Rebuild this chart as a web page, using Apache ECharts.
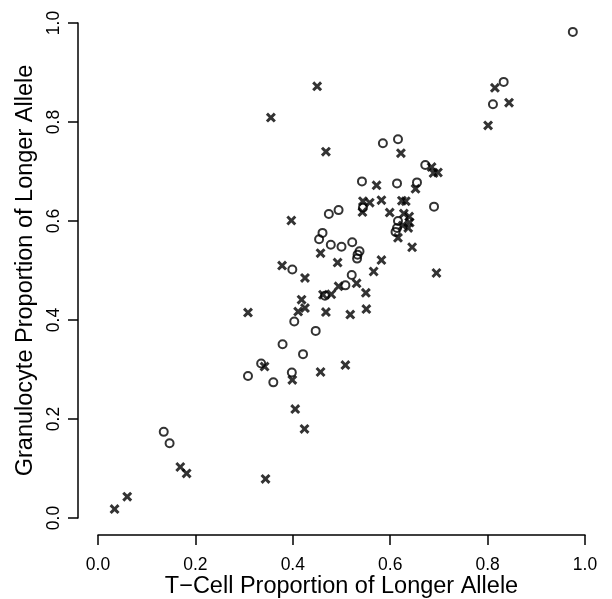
<!DOCTYPE html>
<html>
<head>
<meta charset="utf-8">
<script src="https://cdn.jsdelivr.net/npm/echarts@6/dist/echarts.min.js"></script>
<style>
  html, body { margin: 0; padding: 0; background: #fff; }
  #chart { width: 612px; height: 599px; }
</style>
</head>
<body>
<div id="chart"></div>
<script>
// open circles
const circlePoints = [
  [0.975, 0.982], [0.833, 0.881], [0.811, 0.836], [0.585, 0.757], [0.616, 0.765],
  [0.672, 0.713], [0.542, 0.680], [0.614, 0.676], [0.655, 0.678], [0.690, 0.629],
  [0.544, 0.627], [0.474, 0.614], [0.494, 0.622], [0.616, 0.600], [0.614, 0.586],
  [0.611, 0.578], [0.461, 0.576], [0.454, 0.563], [0.478, 0.552], [0.500, 0.548],
  [0.522, 0.557], [0.537, 0.539], [0.533, 0.532], [0.532, 0.524], [0.399, 0.502],
  [0.521, 0.491], [0.508, 0.470], [0.466, 0.449], [0.403, 0.397], [0.447, 0.378],
  [0.379, 0.351], [0.421, 0.331], [0.335, 0.312], [0.308, 0.287], [0.360, 0.274],
  [0.398, 0.294], [0.135, 0.174], [0.147, 0.151]
]
// crosses
const crossPoints = [
  [0.450, 0.872], [0.355, 0.809], [0.468, 0.740], [0.622, 0.737], [0.685, 0.709],
  [0.689, 0.697], [0.698, 0.698], [0.572, 0.672], [0.652, 0.665], [0.815, 0.869],
  [0.844, 0.839], [0.801, 0.793], [0.544, 0.640], [0.558, 0.637], [0.582, 0.642],
  [0.543, 0.618], [0.624, 0.641], [0.632, 0.640], [0.599, 0.617], [0.397, 0.601],
  [0.628, 0.615], [0.639, 0.609], [0.640, 0.597], [0.626, 0.591], [0.637, 0.586],
  [0.616, 0.566], [0.645, 0.547], [0.695, 0.495], [0.457, 0.535], [0.492, 0.516],
  [0.582, 0.521], [0.566, 0.498], [0.378, 0.510], [0.425, 0.485], [0.531, 0.474],
  [0.550, 0.455], [0.494, 0.468], [0.462, 0.451], [0.479, 0.452], [0.418, 0.441],
  [0.425, 0.424], [0.411, 0.417], [0.468, 0.416], [0.518, 0.411], [0.551, 0.422],
  [0.308, 0.415], [0.342, 0.306], [0.399, 0.279], [0.457, 0.295], [0.508, 0.309],
  [0.405, 0.220], [0.424, 0.180], [0.169, 0.103], [0.182, 0.090], [0.344, 0.079],
  [0.060, 0.043], [0.034, 0.018]
]
const xTicks = [0, 0.2, 0.4, 0.6, 0.8, 1.0]
const yTicks = [0, 0.2, 0.4, 0.6, 0.8, 1.0]

const font = 'Liberation Sans, Arial, Helvetica, sans-serif'
// filled "x" glyph, like R's pch 4
const crossPath = 'path://M0,2.1 L2.1,0 L5,2.9 L7.9,0 L10,2.1 L7.1,5 L10,7.9 L7.9,10 L5,7.1 L2.1,10 L0,7.9 L2.9,5 Z'

const axisBase = {
  type: 'value',
  interval: 0.2,
  nameLocation: 'middle',
  nameMoveOverlap: false,
  nameTextStyle: { color: '#000', fontSize: 23.5, fontFamily: font },
  axisLine: { show: true, onZero: false, lineStyle: { color: '#000', width: 1.5 } },
  axisTick: { show: true, length: 10, lineStyle: { color: '#000', width: 1.5 } },
  splitLine: { show: false }
}

const chart = echarts.init(document.getElementById('chart'))
chart.setOption({
  animation: false,
  backgroundColor: '#ffffff',
  grid: {
    left: 98,
    right: 27,
    top: 23,
    bottom: 81,
    containLabel: false,
    outerBoundsMode: 'none'
  },
  xAxis: Object.assign({}, axisBase, {
    min: xTicks[0],
    max: xTicks[xTicks.length - 1],
    offset: 17,
    name: 'T\u2212Cell Proportion of Longer Allele',
    nameGap: 40,
    axisLabel: {
      color: '#000',
      fontSize: 17.5,
      fontFamily: font,
      margin: 21,
      formatter: v => v.toFixed(1)
    }
  }),
  yAxis: Object.assign({}, axisBase, {
    min: yTicks[0],
    max: yTicks[yTicks.length - 1],
    offset: 20,
    name: 'Granulocyte Proportion of Longer Allele',
    nameGap: 40,
    axisLabel: {
      color: '#000',
      fontSize: 17.5,
      fontFamily: font,
      rotate: 90,
      margin: 15,
      formatter: v => v.toFixed(1)
    }
  }),
  series: [
    {
      name: 'circle',
      type: 'scatter',
      symbol: 'circle',
      symbolSize: 8,
      silent: true,
      itemStyle: { color: 'none', borderColor: '#000', borderWidth: 2 },
      data: circlePoints
    },
    {
      name: 'cross',
      type: 'scatter',
      symbol: crossPath,
      symbolSize: 10,
      silent: true,
      itemStyle: { color: '#000' },
      data: crossPoints
    }
  ]
})
</script>
</body>
</html>
